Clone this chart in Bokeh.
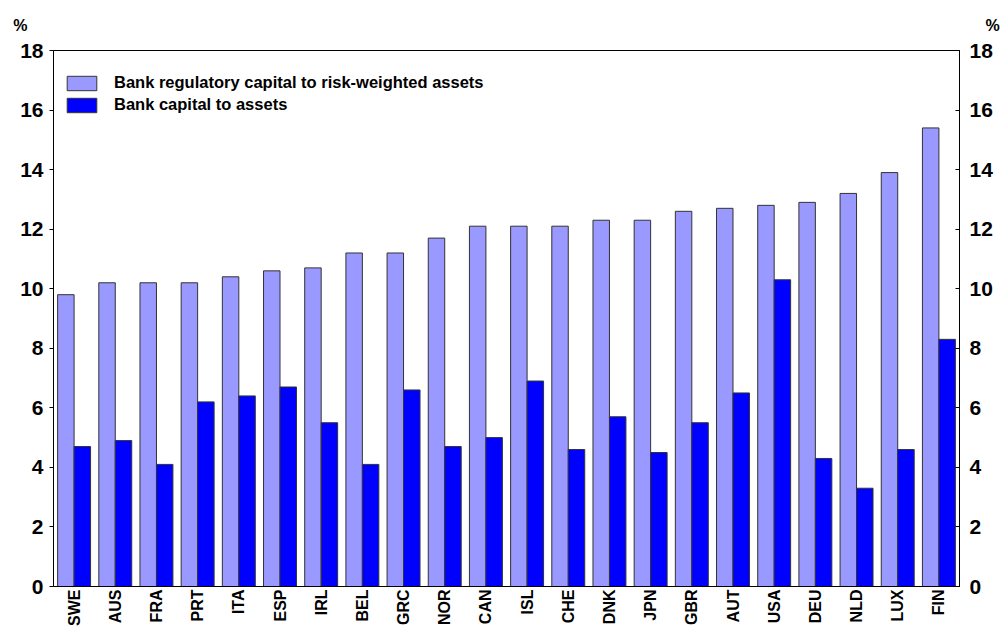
from bokeh.plotting import figure
from bokeh.layouts import column
from bokeh.models import LinearAxis, Range1d, FixedTicker, ColumnDataSource
from bokeh.transform import dodge
from bokeh.embed import file_html
from bokeh.resources import INLINE

countries = ["SWE", "AUS", "FRA", "PRT", "ITA", "ESP", "IRL", "BEL", "GRC", "NOR", "CAN",
             "ISL", "CHE", "DNK", "JPN", "GBR", "AUT", "USA", "DEU", "NLD", "LUX", "FIN"]
reg_capital = [9.8, 10.2, 10.2, 10.2, 10.4, 10.6, 10.7, 11.2, 11.2, 11.7, 12.1,
               12.1, 12.1, 12.3, 12.3, 12.6, 12.7, 12.8, 12.9, 13.2, 13.9, 15.4]
capital_assets = [4.7, 4.9, 4.1, 6.2, 6.4, 6.7, 5.5, 4.1, 6.6, 4.7, 5.0,
                  6.9, 4.6, 5.7, 4.5, 5.5, 6.5, 10.3, 4.3, 3.3, 4.6, 8.3]
y_ticks = [0, 2, 4, 6, 8, 10, 12, 14, 16, 18]
unit_label = "%"

FONT = "Liberation Sans"
W = 1002
HEAD_H = 36
BL, BR = 53, 41


def style_axis(ax, size, standoff):
    ax.minor_tick_line_color = None
    ax.major_label_standoff = standoff
    ax.major_label_text_font = FONT
    ax.major_label_text_font_style = "bold"
    ax.major_label_text_font_size = size
    ax.major_label_text_color = "black"


# header strip: the "%" unit labels sit above both value axes
head = figure(width=W, height=HEAD_H, x_range=Range1d(0, 1), y_range=Range1d(0, HEAD_H),
              output_backend="svg", toolbar_location=None, x_axis_type=None,
              min_border_left=BL, min_border_right=BR,
              min_border_top=0, min_border_bottom=0)
head.grid.visible = False
head.outline_line_color = None
unit_axis_l = head.yaxis[0]
unit_axis_r = LinearAxis()
head.add_layout(unit_axis_r, "right")
for ax in (unit_axis_l, unit_axis_r):
    ax.ticker = FixedTicker(ticks=[11])
    ax.major_label_overrides = {11: unit_label}
    ax.axis_line_color = None
    ax.major_tick_line_color = None
    ax.major_tick_in = 0
    ax.major_tick_out = 0
    style_axis(ax, "16px", 26)

p = figure(x_range=countries, y_range=Range1d(0, 18),
           width=W, height=628 - HEAD_H,
           output_backend="svg", toolbar_location=None,
           min_border_left=BL, min_border_top=50 - HEAD_H, min_border_right=BR,
           min_border_bottom=2)

source = ColumnDataSource(dict(country=countries, reg=reg_capital, cap=capital_assets))

p.vbar(x=dodge("country", -0.2, range=p.x_range), top="reg", width=0.4,
       source=source, fill_color="#9999FF", line_color="#333333", line_width=1,
       legend_label="Bank regulatory capital to risk-weighted assets")
p.vbar(x=dodge("country", 0.2, range=p.x_range), top="cap", width=0.4,
       source=source, fill_color="#0000FF", line_color="#333333", line_width=1,
       legend_label="Bank capital to assets")

p.grid.visible = False
p.outline_line_color = "black"
p.outline_line_width = 1
p.background_fill_color = "white"
p.border_fill_color = "white"

# x axis
xa = p.xaxis[0]
xa.major_label_orientation = 1.5708
xa.major_tick_line_color = None
xa.major_tick_out = 0
xa.major_tick_in = 0
xa.axis_line_color = "black"
style_axis(xa, "16px", 3)

# left y axis
ya = p.yaxis[0]
ya.ticker = FixedTicker(ticks=y_ticks)
ya.major_tick_out = 4
ya.major_tick_in = 0
ya.axis_line_color = "black"
style_axis(ya, "21px", 6)

# right y axis
ra = LinearAxis(ticker=FixedTicker(ticks=y_ticks))
ra.major_tick_out = 0
ra.major_tick_in = 4
ra.axis_line_color = "black"
style_axis(ra, "21px", 10)
p.add_layout(ra, "right")

lg = p.legend[0]
lg.location = (10, 472)
lg.margin = 0
lg.padding = 0
lg.spacing = 3
lg.glyph_width = 37
lg.glyph_height = 18
lg.label_standoff = 14
lg.border_line_color = None
lg.background_fill_alpha = 0
lg.label_text_font = FONT
lg.label_text_font_style = "bold"
lg.label_text_font_size = "16.5px"
lg.label_text_color = "black"

open("out.html", "w").write(file_html(column(head, p, spacing=0), INLINE))
